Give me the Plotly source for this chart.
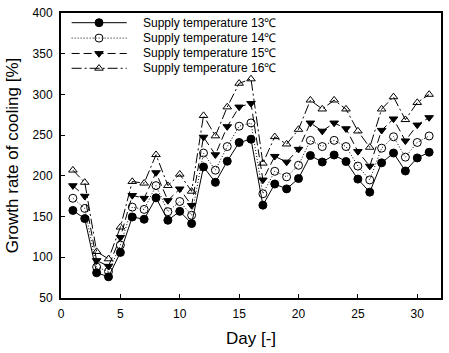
import plotly.graph_objects as go

days = list(range(1, 32))
s13 = [157.5, 147.5, 81, 76, 106, 149.5, 146.7, 173, 145.5, 156.4, 141.4, 211, 192, 218, 241, 245,
       164, 190, 184, 196.7, 225, 217, 225.6, 217.6, 196, 180, 216, 228, 206, 222, 229]
s14 = [172.5, 160, 88, 82.5, 115, 161.6, 158.8, 188, 156, 168.5, 151.6, 228, 207, 236, 261, 265,
       178, 205.6, 198.8, 213, 243.6, 236, 243.6, 236, 212, 195, 234, 248, 223, 241, 249]
s15 = [188, 175, 96, 89, 124.5, 176, 172.5, 204, 169.7, 184, 163.7, 247.6, 226, 260.5, 284.6, 289,
       195, 224, 217, 232.7, 265, 255, 265, 258, 230, 212, 256, 270, 243, 262.5, 271.6]
s16 = [207, 192, 107, 98, 137, 193, 191, 226, 188, 202, 181, 274, 249, 284.6, 313.6, 319,
       215.5, 248, 239, 257, 293, 282, 293, 282, 255, 235, 282, 297, 269, 290, 300]
names = ["Supply temperature 13℃", "Supply temperature 14℃",
         "Supply temperature 15℃", "Supply temperature 16℃"]
series = [s13, s14, s15, s16]

dashes = ["solid", "1px,2px", "8px,4px", "10px,3px,2px,3px"]
symbols = ["circle", "circle-open", "triangle-down", "triangle-up-open"]
sizes = [8, 8, 7.5, 7.5]

FONT = "Liberation Sans, Arial, sans-serif"
fig = go.Figure()
for vals, nm, ds, sy, sz in zip(series, names, dashes, symbols, sizes):
    fig.add_trace(go.Scatter(
        x=days, y=vals, name=nm, mode="lines+markers", showlegend=False,
        line=dict(color="black", width=1, dash=ds),
        marker=dict(symbol=sy, size=sz, color="black", line=dict(color="black", width=1)),
    ))

# custom legend (plot-area fractions)
leg_rows = [0.966, 0.912, 0.858, 0.806]
lx0, lxm, lx1, ltx = 0.028, 0.1, 0.173, 0.21
for nm, ds, sy, sz, ry in zip(names, dashes, symbols, sizes, leg_rows):
    fig.add_trace(go.Scatter(x=[lx0, lx1], y=[ry, ry], mode="lines", xaxis="x2", yaxis="y2",
                             showlegend=False, hoverinfo="skip",
                             line=dict(color="black", width=1, dash=ds)))
    fig.add_trace(go.Scatter(x=[lxm], y=[ry], mode="markers", xaxis="x2", yaxis="y2",
                             showlegend=False, hoverinfo="skip",
                             marker=dict(symbol=sy, size=sz, color="black",
                                         line=dict(color="black", width=1))))
    fig.add_annotation(x=ltx, y=ry, xref="paper", yref="paper", text=nm, showarrow=False,
                       xanchor="left", yanchor="middle",
                       font=dict(family=FONT, size=12, color="black"))

fig.update_layout(
    width=449, height=353,
    margin=dict(l=61, r=6, t=7, b=55),
    paper_bgcolor="white", plot_bgcolor="white",
    font=dict(family=FONT, size=12, color="black"),
    xaxis=dict(range=[0, 32], tickvals=[0, 5, 10, 15, 20, 25, 30], ticks="inside", ticklen=4,
               tickwidth=1, tickcolor="black", showline=True, linecolor="black", linewidth=2,
               mirror=True, showgrid=False, zeroline=False,
               title=dict(text="Day [-]", font=dict(family=FONT, size=17), standoff=12),
               tickfont=dict(family=FONT, size=12), ticklabelstandoff=4),
    yaxis=dict(range=[50, 400], tickvals=[50, 100, 150, 200, 250, 300, 350, 400], ticks="inside",
               ticklen=4, tickwidth=1, tickcolor="black", showline=True, linecolor="black",
               linewidth=2, mirror=True, showgrid=False, zeroline=False,
               title=dict(text="Growth rate of cooling [%]", font=dict(family=FONT, size=17), standoff=10),
               tickfont=dict(family=FONT, size=12), ticklabelstandoff=4),
    xaxis2=dict(overlaying="x", range=[0, 1], visible=False, fixedrange=True),
    yaxis2=dict(overlaying="y", range=[0, 1], visible=False, fixedrange=True),
)
fig.write_html("out.html")
